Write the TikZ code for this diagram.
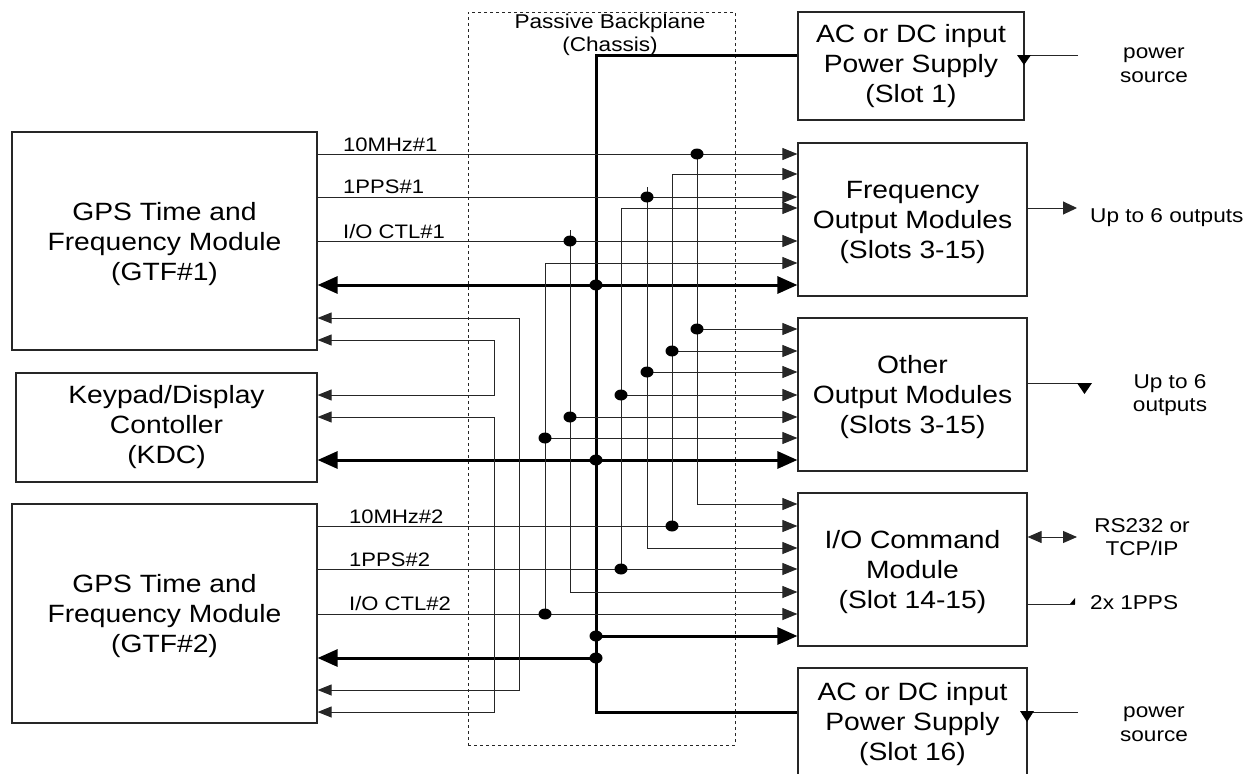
\documentclass[tikz,border=0pt]{standalone}
\usepackage{fontspec}
\setmainfont[FakeStretch=1.13]{Liberation Sans}
\usetikzlibrary{arrows.meta}
\newcommand\toppad{\rule{0pt}{24pt}}
\begin{document}
\begin{tikzpicture}[x=1pt,y=-1pt,
  box/.style={draw=black!85, line width=1.2pt, inner sep=0pt, align=center, font=\fontsize{25}{30}\selectfont},
  lbl/.style={inner sep=0pt, font=\fontsize{19.5}{23}\selectfont},
  rtxt/.style={inner sep=0pt, align=center, font=\fontsize{20}{23.5}\selectfont},
  sig/.style={line width=1pt, draw=black!85},
  sarr/.style={-{Triangle[length=15pt,width=12pt]}},
  larr/.style={{Triangle[length=14pt,width=11pt]}-{Triangle[length=14pt,width=11pt]}},
  buswire/.style={line width=3pt, draw=black, line join=miter},
  barr/.style={-{Triangle[length=20pt,width=17pt]}},
  bbarr/.style={{Triangle[length=20pt,width=17pt]}-{Triangle[length=20pt,width=17pt]}},
  jdot/.style={fill=black}
]
\useasboundingbox (0,0) rectangle (1254,774);

% backplane
\node[draw=black!85, dashed, line width=0.8pt, minimum width=267pt, minimum height=733pt, inner sep=0pt] (bp) at (601.5,378.5) {};
\node[rtxt] (bplabel) at (610,35) {Passive Backplane\\(Chassis)};

% boxes
\node[box, minimum width=305pt, minimum height=218pt] (gtf1) at (164.5,241) {\toppad GPS Time and\\Frequency Module\\(GTF\#1)};
\node[box, minimum width=301pt, minimum height=109pt] (kdc) at (166.5,427.5) {Keypad/Display\\Contoller\\(KDC)};
\node[box, minimum width=305pt, minimum height=219pt] (gtf2) at (164.5,613.5) {\toppad GPS Time and\\Frequency Module\\(GTF\#2)};
\node[box, minimum width=226pt, minimum height=108pt] (ps1) at (911,66) {AC or DC input\\Power Supply\\(Slot 1)};
\node[box, minimum width=229pt, minimum height=153pt] (freq) at (912.5,219.5) {\toppad Frequency\\Output Modules\\(Slots 3-15)};
\node[box, minimum width=229pt, minimum height=153pt] (other) at (912.5,394.5) {\toppad Other\\Output Modules\\(Slots 3-15)};
\node[box, minimum width=229pt, minimum height=153pt] (io) at (912.5,569.5) {\toppad I/O Command\\Module\\(Slot 14-15)};
\node[box, minimum width=229pt, minimum height=112pt] (ps16) at (912.5,724) {AC or DC input\\Power Supply\\(Slot 16)};

% signal labels
\node[lbl, anchor=base west] (l1) at (343,151) {10MHz\#1};
\node[lbl, anchor=base west] (l2) at (343,193) {1PPS\#1};
\node[lbl, anchor=base west] (l3) at (343,238) {I/O CTL\#1};
\node[lbl, anchor=base west] (l4) at (349,523) {10MHz\#2};
\node[lbl, anchor=base west] (l5) at (349,566) {1PPS\#2};
\node[lbl, anchor=base west] (l6) at (349,610) {I/O CTL\#2};

% main bus
\draw[buswire] (ps1.west |- 0,55) -- (596,55) -- (596,712) -- (ps16.west |- 0,712);
\draw[buswire, bbarr] (gtf1.east |- 0,285) -- (freq.west |- 0,285);
\draw[buswire, bbarr] (kdc.east |- 0,460) -- (other.west |- 0,460);
\draw[buswire, barr] (596,636) -- (io.west |- 0,636);
\draw[buswire, barr] (596,658) -- (gtf2.east |- 0,658);

% 10MHz
\draw[sig, sarr] (gtf1.east |- 0,154) -- (freq.west |- 0,154);
\draw[sig, sarr] (697,154) -- (697,504) -- (io.west |- 0,504);
\draw[sig, sarr] (697,329) -- (other.west |- 0,329);
\draw[sig, sarr] (gtf2.east |- 0,526) -- (io.west |- 0,526);
\draw[sig, sarr] (672,526) -- (672,174) -- (freq.west |- 0,174);
\draw[sig, sarr] (672,351) -- (other.west |- 0,351);
% 1PPS
\draw[sig, sarr] (gtf1.east |- 0,197) -- (freq.west |- 0,197);
\draw[sig, sarr] (647,187) -- (647,548) -- (io.west |- 0,548);
\draw[sig, sarr] (647,372) -- (other.west |- 0,372);
\draw[sig, sarr] (gtf2.east |- 0,569) -- (io.west |- 0,569);
\draw[sig, sarr] (621,569) -- (621,208) -- (freq.west |- 0,208);
\draw[sig, sarr] (621,395) -- (other.west |- 0,395);
% I/O CTL
\draw[sig, sarr] (gtf1.east |- 0,241) -- (freq.west |- 0,241);
\draw[sig, sarr] (570,230) -- (570,592) -- (io.west |- 0,592);
\draw[sig, sarr] (570,417) -- (other.west |- 0,417);
\draw[sig, sarr] (gtf2.east |- 0,614) -- (io.west |- 0,614);
\draw[sig, sarr] (545,614) -- (545,263) -- (freq.west |- 0,263);
\draw[sig, sarr] (545,438) -- (other.west |- 0,438);

% return lines to left modules
\draw[sig, larr] (gtf1.east |- 0,318) -- (519,318) -- (519,690) -- (gtf2.east |- 0,690);
\draw[sig, larr] (gtf1.east |- 0,340) -- (494,340) -- (494,395) -- (kdc.east |- 0,395);
\draw[sig, larr] (kdc.east |- 0,417) -- (494,417) -- (494,712) -- (gtf2.east |- 0,712);

% junction dots
\foreach \p in {(697,154),(697,329),(672,351),(672,526),(647,197),(647,372),(621,395),(621,569),(570,241),(570,417),(545,438),(545,614),(596,285),(596,460),(596,636),(596,658)}
  \fill[jdot] \p ellipse [x radius=6.5pt, y radius=5.5pt];

% right side
\node[rtxt] (src1) at (1154,65) {power\\source};
\coordinate (s1end) at (1078,55);
\draw[sig] (s1end) -- (ps1.east |- s1end);
\fill (1017,55) -- (1031,55) -- (1024,65) -- cycle;

\node[rtxt, anchor=west] (outf) at (1090,218) {Up to 6 outputs};
\coordinate (fend) at (1077,208);
\draw[sig, -{Triangle[length=14pt,width=13pt]}] (freq.east |- fend) -- (fend);

\node[rtxt] (outo) at (1170,395) {Up to 6\\outputs};
\coordinate (oend) at (1085,383);
\draw[sig] (other.east |- oend) -- (oend);
\fill (1077,383) -- (1092,383) -- (1084.5,394) -- cycle;

\node[rtxt] (rs) at (1142,537) {RS232 or\\TCP/IP};
\coordinate (rend) at (1077,537);
\draw[sig, {Triangle[length=14pt,width=12pt]}-{Triangle[length=14pt,width=12pt]}] (io.east |- rend) -- (rend);

\node[rtxt, anchor=west] (pps) at (1090,603) {2x 1PPS};
\coordinate (pend) at (1075,604);
\draw[sig] (io.east |- pend) -- (pend);
\fill (1070,604) -- (1075,598) -- (1075,604) -- cycle;

\node[rtxt] (src16) at (1154,724) {power\\source};
\coordinate (s16end) at (1078,712);
\draw[sig] (s16end) -- (ps16.east |- s16end);
\fill (1020,711) -- (1034,711) -- (1027,722) -- cycle;
\end{tikzpicture}
\end{document}
